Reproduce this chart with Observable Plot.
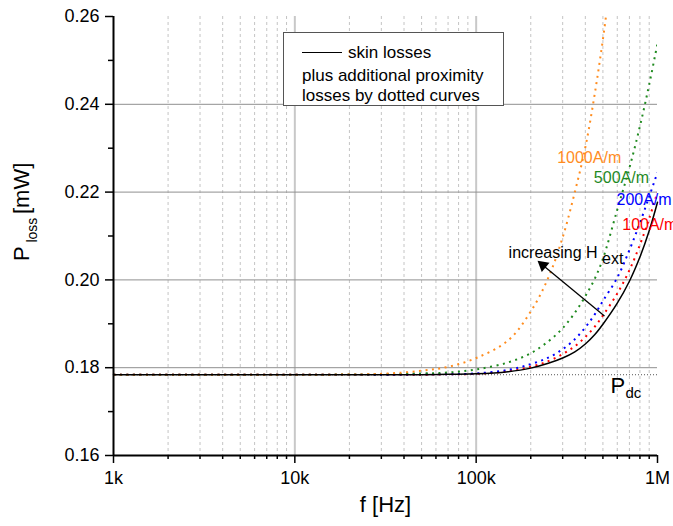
<!DOCTYPE html>
<html><head><meta charset="utf-8">
<script src="https://cdn.jsdelivr.net/npm/d3@7"></script>
<script src="https://cdn.jsdelivr.net/npm/@observablehq/plot@0.6"></script>
<style>
html,body{margin:0;padding:0;background:#fff;overflow:hidden;}
#wrap{position:relative;width:673px;height:526px;overflow:hidden;font-family:"Liberation Sans",Arial,sans-serif;}
#legend{position:absolute;left:283px;top:32px;width:221px;height:74px;border:1px solid #555;background:#fff;box-sizing:border-box;font-size:17px;color:#000;}
#legend .t{position:absolute;left:18px;white-space:nowrap;line-height:1;}
#legend .ln{position:absolute;left:18px;top:19px;width:40px;height:0;border-top:1.5px solid #000;}
</style></head><body>
<div id="wrap">
  <div id="legend">
    <div class="ln"></div>
    <div class="t" style="left:64px;top:11px">skin losses</div>
    <div class="t" style="top:34px">plus additional proximity</div>
    <div class="t" style="top:54px">losses by dotted curves</div>
  </div>
</div>
<script>
// frequencies (Hz)
const freq   = [1000, 10000, 30000, 50000, 70000, 100000, 150000, 200000, 250000, 300000, 350000, 400000, 450000, 500000, 600000, 700000, 800000, 900000, 1000000];
// skin losses (mW), black solid
const skin   = [0.1784,0.1784,0.1784,0.1784,0.1785,0.1786,0.1791,0.1799,0.1810,0.1822,0.1836,0.1854,0.1875,0.1899,0.1947,0.1997,0.2052,0.2112,0.2177];
// skin + proximity losses, dotted
const h100   = [0.1784,0.1784,0.1784,0.1784,0.1785,0.1786,0.1792,0.1802,0.1815,0.1831,0.1849,0.1870,0.1893,0.1919,0.1969,0.2022,0.2080,0.2140,0.2200];
const h200   = [0.1784,0.1784,0.1784,0.1785,0.1785,0.1787,0.1795,0.1808,0.1823,0.1842,0.1865,0.1892,0.1921,0.1952,0.2005,0.2068,0.2130,0.2190,0.2245];
const h500   = [0.1784,0.1784,0.1785,0.1787,0.1789,0.1796,0.1812,0.1833,0.1860,0.1890,0.1925,0.1963,0.2002,0.2048,0.2160,0.2255,0.2350,0.2445,0.2539];
const h1000f = [1000, 10000, 30000, 50000, 70000, 100000, 150000, 200000, 250000, 300000, 350000, 400000, 450000, 500000, 550000];
const h1000  = [0.1784,0.1784,0.1786,0.1793,0.1802,0.1822,0.1862,0.1928,0.2005,0.2097,0.2200,0.2302,0.2422,0.2548,0.2680];
const pdc = 0.1784;

const seriesNames  = ["100A/m","200A/m","500A/m","1000A/m"];
const seriesColors = ["#ff0000","#0000ff","#1f8a1f","#ff8c1e"];

const xTicks = [1e3, 1e4, 1e5, 1e6];
const xTickLabels = ["1k","10k","100k","1M"];
const xMinor = [1e3,1e4,1e5].flatMap(d => [2,3,4,5,6,7,8,9].map(m => m*d));
const yTicks = [0.16,0.18,0.20,0.22,0.24,0.26];
const yMinor = [0.17,0.19,0.21,0.23,0.25];
const yGrid  = [0.18,0.20,0.22,0.24];

// annotation anchors in data coordinates
const curveLabels = [
  {f: 279700, v: 0.2278, text: "1000A/m", c: "#ff8c1e"},
  {f: 445600, v: 0.2233, text: "500A/m",  c: "#1f8a1f"},
  {f: 594000, v: 0.2182, text: "200A/m",  c: "#0000ff"},
  {f: 639000, v: 0.2126, text: "100A/m",  c: "#ff0000"}
];
const arrowLine = [{f1: 510000, v1: 0.1918, f2: 228000, v2: 0.2037}];
const arrowHead = [{f: 233500, v: 0.20336}];

const toRows = (fs, vs, name) => fs.map((f, i) => ({f, v: vs[i], name}));
const dotted = [
  ...toRows(freq, h100, "100A/m"),
  ...toRows(freq, h200, "200A/m"),
  ...toRows(freq, h500, "500A/m"),
  ...toRows(h1000f, h1000, "1000A/m")
];
const skinRows = toRows(freq, skin, "skin");

const font = '"Liberation Sans", Arial, sans-serif';
const plot = Plot.plot({
  width: 673, height: 526,
  marginLeft: 113, marginRight: 16, marginTop: 16, marginBottom: 71,
  style: {fontFamily: font, fontSize: "18px", color: "#000", background: "transparent", overflow: "hidden"},
  x: {type: "log", domain: [1e3, 1e6]},
  y: {domain: [0.16, 0.26]},
  color: {domain: seriesNames, range: seriesColors},
  marks: [
    Plot.ruleX(xMinor, {stroke: "#c4c4c4", strokeDasharray: "3,3", strokeWidth: 1}),
    Plot.ruleX([1e4, 1e5], {stroke: "#c8c8c8", strokeWidth: 2}),
    Plot.ruleY(yGrid, {stroke: "#8f8f8f", strokeWidth: 1}),
    Plot.ruleY([pdc], {stroke: "#555", strokeDasharray: "1,2", strokeWidth: 1}),
    Plot.line(dotted, {x: "f", y: "v", z: "name", stroke: "name", strokeWidth: 2, strokeDasharray: "2,4.5", strokeLinecap: "butt", curve: "catmull-rom", clip: true}),
    Plot.line(skinRows, {x: "f", y: "v", stroke: "#000", strokeWidth: 1.5, curve: "catmull-rom"}),
    Plot.link(arrowLine, {x1: "f1", y1: "v1", x2: "f2", y2: "v2", stroke: "#000", strokeWidth: 1.3}),
    Plot.dot(arrowHead, {x: "f", y: "v", symbol: "triangle", r: 4.5, fill: "#000", stroke: "none", rotate: -50.5}),
    Plot.text(curveLabels, {x: "f", y: "v", text: "text", fill: "c", textAnchor: "start", fontSize: 16}),
    Plot.text(["increasing H"], {x: 151000, y: 0.2061, textAnchor: "start", fontSize: 16, fill: "#000"}),
    Plot.text(["ext"], {x: 495000, y: 0.2048, textAnchor: "start", fontSize: 16, fill: "#000"}),
    Plot.text(["P"], {x: 550000, y: 0.1759, textAnchor: "start", fontSize: 22, fill: "#000"}),
    Plot.text(["dc"], {x: 666000, y: 0.1741, textAnchor: "start", fontSize: 15, fill: "#000"}),
    Plot.text(["f [Hz]"], {frameAnchor: "bottom", dy: 56, fontSize: 22, fill: "#000"}),
    Plot.text(["P"], {frameAnchor: "left", y: 0.2043, dx: -92, rotate: -90, textAnchor: "start", fontSize: 22, fill: "#000"}),
    Plot.text(["loss"], {frameAnchor: "left", y: 0.2085, dx: -81, rotate: -90, textAnchor: "start", fontSize: 14, fill: "#000"}),
    Plot.text(["[mW]"], {frameAnchor: "left", y: 0.2150, dx: -92, rotate: -90, textAnchor: "start", fontSize: 22, fill: "#000"}),
    Plot.axisX(xMinor, {tickSize: 4, tickFormat: () => "", label: null, strokeWidth: 1.5}),
    Plot.axisX(xTicks, {tickSize: 8, tickPadding: 8, tickFormat: d => xTickLabels[xTicks.indexOf(d)], label: null, fontSize: 18, strokeWidth: 1.5}),
    Plot.axisY(yMinor, {tickSize: 5, tickFormat: () => "", label: null, strokeWidth: 1.5}),
    Plot.axisY(yTicks, {tickSize: 8, tickPadding: 6, tickFormat: d3.format(".2f"), label: null, fontSize: 18, strokeWidth: 1.5}),
    Plot.ruleX([1e3], {stroke: "#000", strokeWidth: 2}),
    Plot.ruleY([0.16], {stroke: "#000", strokeWidth: 2})
  ]
});
const wrap = document.getElementById("wrap");
wrap.insertBefore(plot, wrap.firstChild);
</script>
</body></html>
